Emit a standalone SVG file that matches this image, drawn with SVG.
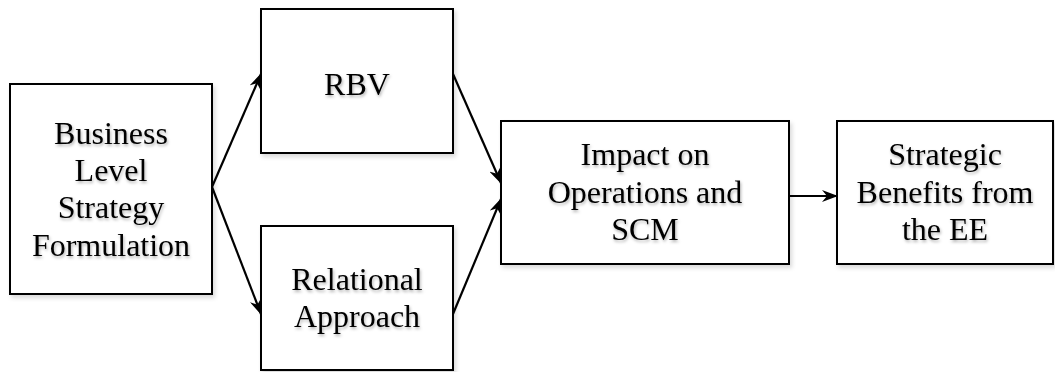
<svg xmlns="http://www.w3.org/2000/svg" width="1055" height="372" viewBox="0 0 1055 372">
<style>
.box{fill:#fff;stroke:#000;stroke-width:2;filter:url(#sh)}
.lbl{font-family:"Liberation Serif","Times New Roman",serif;font-size:32px;fill:#000;text-anchor:middle;filter:url(#tsh)}
.con{stroke:#000;stroke-width:2.2;fill:none;marker-end:url(#ah)}
</style>
<defs>
<filter id="sh" x="-10%" y="-10%" width="125%" height="125%">
<feDropShadow dx="2" dy="3" stdDeviation="2" flood-color="#000" flood-opacity="0.15"/>
</filter>
<filter id="tsh" x="-10%" y="-20%" width="125%" height="150%">
<feDropShadow dx="1" dy="2" stdDeviation="1.5" flood-color="#000" flood-opacity="0.3"/>
</filter>
<marker id="ah" viewBox="0 0 16 12" refX="15" refY="6" markerWidth="16" markerHeight="12" markerUnits="userSpaceOnUse" orient="auto">
<path d="M0,0 L16,6 L0,12 L5,6 Z" fill="#000"/>
</marker>
</defs>
<g id="connectors">
<line class="con" x1="212" y1="187" x2="261" y2="74"/>
<line class="con" x1="212" y1="187" x2="261" y2="314"/>
<line class="con" x1="453" y1="74" x2="501" y2="183"/>
<line class="con" x1="453" y1="314" x2="501" y2="199"/>
<line class="con" x1="789" y1="196" x2="837" y2="196"/>
</g>
<g id="node-business">
<rect class="box" x="10" y="84" width="202" height="210"/>
<text class="lbl" x="111" y="144">Business</text>
<text class="lbl" x="111" y="181">Level</text>
<text class="lbl" x="111" y="218">Strategy</text>
<text class="lbl" x="111" y="256">Formulation</text>
</g>
<g id="node-rbv">
<rect class="box" x="261" y="9" width="192" height="144"/>
<text class="lbl" x="357" y="95">RBV</text>
</g>
<g id="node-relational">
<rect class="box" x="261" y="226" width="192" height="144"/>
<text class="lbl" x="357" y="290">Relational</text>
<text class="lbl" x="357" y="327">Approach</text>
</g>
<g id="node-impact">
<rect class="box" x="501" y="121" width="288" height="143"/>
<text class="lbl" x="645" y="165">Impact on</text>
<text class="lbl" x="645" y="203">Operations and</text>
<text class="lbl" x="645" y="240">SCM</text>
</g>
<g id="node-benefits">
<rect class="box" x="837" y="121" width="216" height="143"/>
<text class="lbl" x="945" y="165">Strategic</text>
<text class="lbl" x="945" y="203">Benefits from</text>
<text class="lbl" x="945" y="240">the EE</text>
</g>
</svg>
